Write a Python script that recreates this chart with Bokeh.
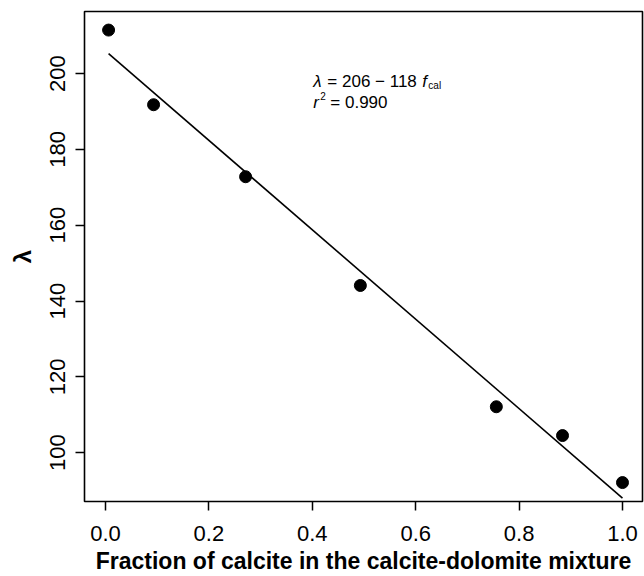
from bokeh.plotting import figure
from bokeh.models import Range1d, FixedTicker, NumeralTickFormatter, ColumnDataSource
from bokeh.core.properties import value
from bokeh.embed import file_html
from bokeh.resources import INLINE

# Data
frac_calcite = [0.006, 0.093, 0.271, 0.493, 0.756, 0.884, 1.0]
lam_values = [211.5, 191.8, 172.8, 144.1, 112.1, 104.5, 92.1]
fit_intercept = 206.0
fit_slope = -118.0
x_ticks = [0.0, 0.2, 0.4, 0.6, 0.8, 1.0]
y_ticks = [100, 120, 140, 160, 180, 200]
x_title = "Fraction of calcite in the calcite-dolomite mixture"
y_title = "\u03bb"
eq_line1 = "= 206 \u2212 118"
eq_line2 = "= 0.990"

FONT = "Liberation Sans"

p = figure(width=644, height=576, output_backend="svg", toolbar_location=None,
           x_range=Range1d(-0.0406, 1.0387), y_range=Range1d(87.1, 216.4),
           min_border_left=84, min_border_right=2, min_border_top=11, min_border_bottom=74)
p.grid.visible = False
p.background_fill_color = "white"
p.border_fill_color = "white"
p.outline_line_color = "black"
p.outline_line_width = 1.6

for ax in (p.xaxis[0], p.yaxis[0]):
    ax.axis_line_color = None
    ax.major_tick_out = 9
    ax.major_tick_in = 0
    ax.major_tick_line_width = 1.5
    ax.major_tick_line_color = "black"
    ax.minor_tick_line_color = None
    ax.major_label_text_font = FONT
    ax.major_label_text_font_size = "22px"
    ax.major_label_text_color = "black"
    ax.axis_label_text_font = FONT
    ax.axis_label_text_font_style = "bold"
    ax.axis_label_text_color = "black"

p.xaxis.ticker = FixedTicker(ticks=x_ticks)
p.xaxis.formatter = NumeralTickFormatter(format="0.0")
p.xaxis.axis_label = x_title
p.xaxis.axis_label_text_font_size = "23px"
p.xaxis.major_label_standoff = 15
p.xaxis.axis_label_standoff = 4

p.yaxis.ticker = FixedTicker(ticks=y_ticks)
p.yaxis.major_label_orientation = "parallel"
p.yaxis.axis_label = y_title
p.yaxis.axis_label_text_font_size = "24px"
p.yaxis.major_label_standoff = 10
p.yaxis.axis_label_standoff = 12

# fitted line over the data range
x0, x1 = min(frac_calcite), max(frac_calcite)
p.line([x0, x1], [fit_intercept + fit_slope * x0, fit_intercept + fit_slope * x1],
       line_color="black", line_width=1.6)

src = ColumnDataSource(dict(x=frac_calcite, y=lam_values))
p.scatter("x", "y", source=src, size=12, fill_color="black", line_color="black")

# equation annotation
ax_, l1 = 0.402, 197.9
l2 = 192.3
fs = "17px"
small = "10px"
f = value(FONT)
common = dict(text_font=f, text_baseline="alphabetic", text_color="black")
p.text(x=[ax_], y=[l1], text=["\u03bb"], text_font_size=fs, text_font_style="italic", **common)
p.text(x=[ax_], y=[l1], text=[eq_line1], text_font_size=fs, x_offset=14, **common)
p.text(x=[ax_], y=[l1], text=["f"], text_font_size=fs, x_offset=109,
       text_font_style="italic", **common)
p.text(x=[ax_], y=[l1], text=["cal"], text_font_size=small, x_offset=115, y_offset=4, **common)
p.text(x=[ax_], y=[l2], text=["r"], text_font_size=fs, text_font_style="italic", **common)
p.text(x=[ax_], y=[l2], text=["2"], text_font_size=small, x_offset=7, y_offset=-7, **common)
p.text(x=[ax_], y=[l2], text=[eq_line2], text_font_size=fs, x_offset=17, **common)

open("out.html", "w").write(file_html(p, INLINE))
